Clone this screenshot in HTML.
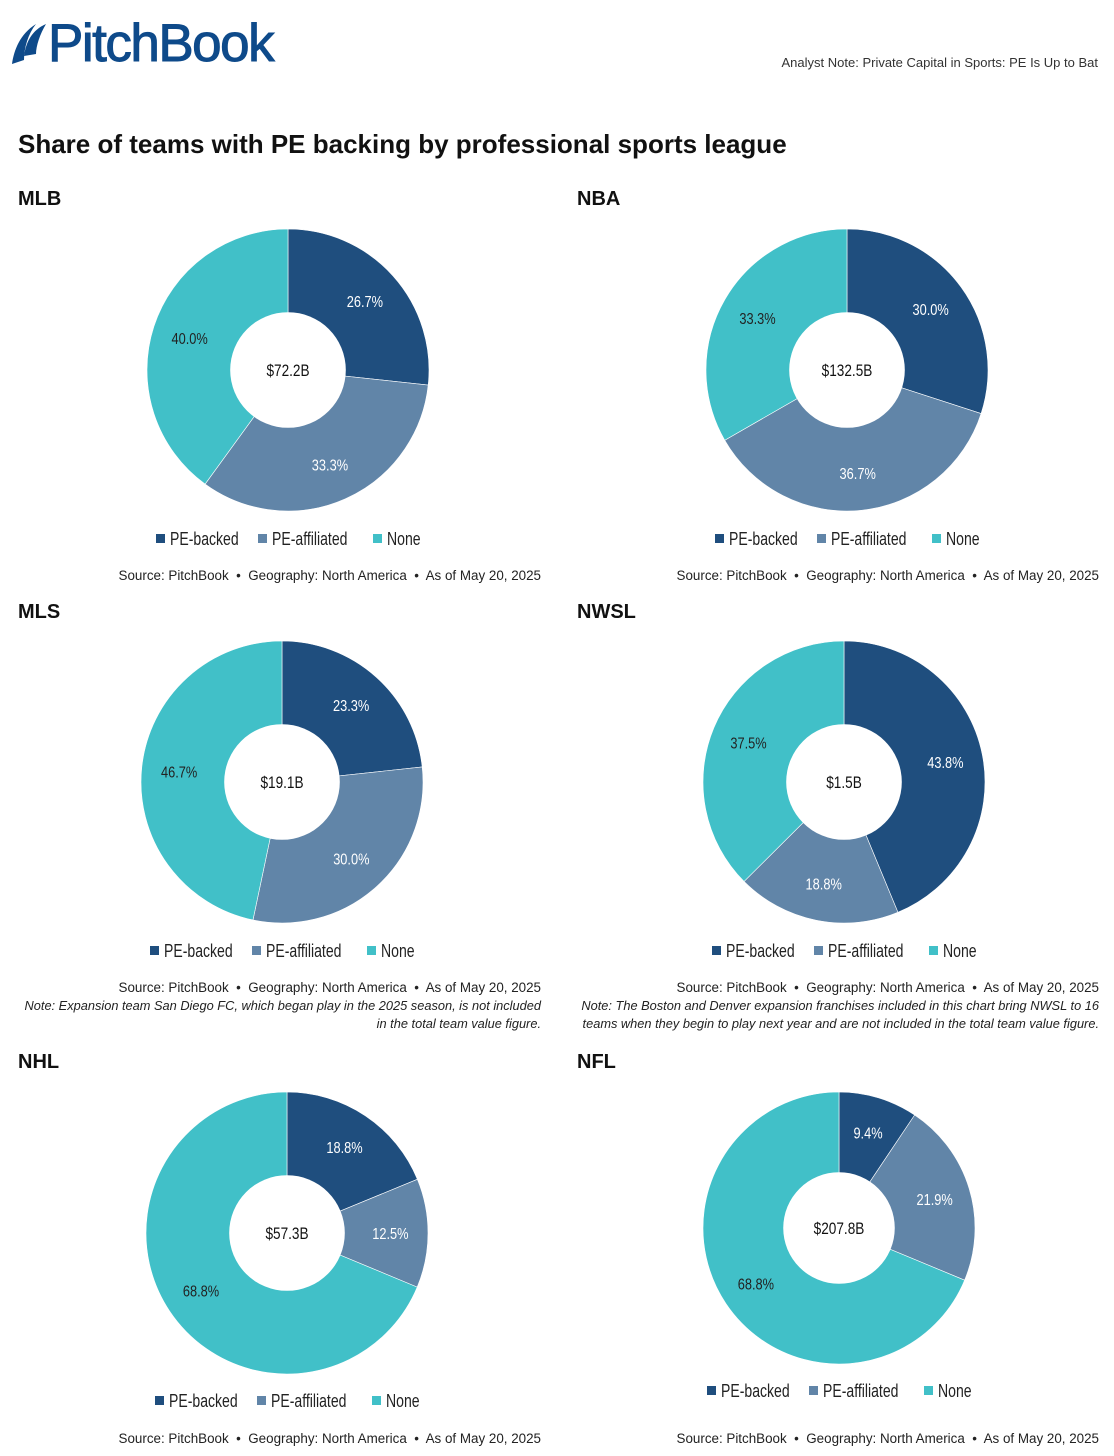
<!DOCTYPE html>
<html><head><meta charset="utf-8">
<style>
body{margin:0;background:#fff;width:1114px;height:1456px;position:relative;overflow:hidden;font-family:"Liberation Sans",sans-serif;color:#111}
.abs{position:absolute}
.h{font-weight:bold;font-size:20px}
.src{font-size:13.4px;color:#222;text-align:right;white-space:nowrap}
.note{font-size:12.8px;font-style:italic;color:#222;text-align:right;line-height:18px;white-space:nowrap}
svg{position:absolute;left:0;top:0}
</style></head><body>
<div class="abs" style="left:10px;top:16px;height:54px;display:flex;align-items:center">
<svg width="40" height="46" viewBox="0 0 40 46" style="position:relative"><path d="M2 44 C4 30 10 14 26 4 C18 14 14 28 14 40 Z" fill="#0e4a8a"/><path d="M14 36 C16 22 22 10 36 4 C30 14 26 26 26 34 Z" fill="#0e4a8a"/></svg>
<span style="font-size:53px;color:#0e4a8a;letter-spacing:-1.5px;margin-left:-2px;-webkit-text-stroke:1px #0e4a8a">PitchBook</span></div>
<div class="abs" style="right:16px;top:55px;font-size:13px;color:#333">Analyst Note: Private Capital in Sports: PE Is Up to Bat</div>
<div class="abs" style="left:18px;top:129px;font-size:26px;font-weight:bold">Share of teams with PE backing by professional sports league</div>

<div class="abs h" style="left:18px;top:188px">MLB</div>
<div class="abs h" style="left:577px;top:188px">NBA</div>
<div class="abs h" style="left:18px;top:601px">MLS</div>
<div class="abs h" style="left:577px;top:601px">NWSL</div>
<div class="abs h" style="left:18px;top:1051px">NHL</div>
<div class="abs h" style="left:577px;top:1051px">NFL</div>

<div class="abs src" style="right:573px;top:568px">Source: PitchBook &nbsp;•&nbsp; Geography: North America &nbsp;•&nbsp; As of May 20, 2025</div>
<div class="abs src" style="right:15px;top:568px">Source: PitchBook &nbsp;•&nbsp; Geography: North America &nbsp;•&nbsp; As of May 20, 2025</div>
<div class="abs src" style="right:573px;top:980px">Source: PitchBook &nbsp;•&nbsp; Geography: North America &nbsp;•&nbsp; As of May 20, 2025</div>
<div class="abs src" style="right:15px;top:980px">Source: PitchBook &nbsp;•&nbsp; Geography: North America &nbsp;•&nbsp; As of May 20, 2025</div>
<div class="abs src" style="right:573px;top:1431px">Source: PitchBook &nbsp;•&nbsp; Geography: North America &nbsp;•&nbsp; As of May 20, 2025</div>
<div class="abs src" style="right:15px;top:1431px">Source: PitchBook &nbsp;•&nbsp; Geography: North America &nbsp;•&nbsp; As of May 20, 2025</div>
<div class="abs note" style="right:573px;top:997px">Note: Expansion team San Diego FC, which began play in the 2025 season, is not included<br>in the total team value figure.</div>
<div class="abs note" style="right:15px;top:997px">Note: The Boston and Denver expansion franchises included in this chart bring NWSL to 16<br>teams when they begin to play next year and are not included in the total team value figure.</div>

<svg id="chart" width="1114" height="1456"></svg>
<script>
const leagues = ["mlb","nba","mls","nwsl","nhl","nfl"];
const totals = ["$72.2B","$132.5B","$19.1B","$1.5B","$57.3B","$207.8B"];
const peBacked = [26.7,30.0,23.3,43.8,18.8,9.4];
const peAffiliated = [33.3,36.7,30.0,18.8,12.5,21.9];
const noneShare = [40.0,33.3,46.7,37.5,68.8,68.8];
const categories = ["PE-backed","PE-affiliated","None"];
const colors = ["#1f4e7e","#6185a8","#41c0c8"];
const textColors = ["#fff","#fff","#222"];
const layout = [[288,370,141,539],[847,370,141,539],[282,782,141,951],[844,782,141,951],[287,1233,141,1401],[839,1228,136,1391]];
const NS="http://www.w3.org/2000/svg";
const svg=document.getElementById('chart');
function mk(t,a){const e=document.createElementNS(NS,t);for(const k in a)e.setAttribute(k,a[k]);return e;}
function pt(cx,cy,r,frac){const a=frac*2*Math.PI;return [cx+r*Math.sin(a),cy-r*Math.cos(a)];}
function condense(t,f){const w=t.getComputedTextLength();t.setAttribute('textLength',w*f);t.setAttribute('lengthAdjust','spacingAndGlyphs');}
leagues.forEach((lg,i)=>{
  const [cx,cy,R,ly]=layout[i];
  const r0=R*0.41;
  const vals=[peBacked[i],peAffiliated[i],noneShare[i]];
  const sum=vals.reduce((a,b)=>a+b,0);
  let acc=0;
  vals.forEach((v,j)=>{
    const s=acc/sum, e=(acc+v)/sum; acc+=v;
    const [x1,y1]=pt(cx,cy,R,s),[x2,y2]=pt(cx,cy,R,e);
    const large=(e-s)>0.5?1:0;
    const p=mk('path',{d:`M${cx},${cy} L${x1},${y1} A${R},${R} 0 ${large} 1 ${x2},${y2} Z`,fill:colors[j],stroke:'#fff','stroke-width':0.6});
    
    
    svg.appendChild(p);
    const [lx,ly2]=pt(cx,cy,(R+r0)/2+4,(s+e)/2);
    const t=mk('text',{x:lx,y:ly2+6,'text-anchor':'middle','font-size':16,fill:textColors[j]});
    t.textContent=v.toFixed(1)+'%';
    
    
    svg.appendChild(t);
    condense(t,0.8);
  });
  const c=mk('circle',{cx:cx,cy:cy,r:r0,fill:'#fff'});
  
  
  svg.appendChild(c);
  const tt=mk('text',{x:cx,y:cy+6,'text-anchor':'middle','font-size':17,fill:'#111'});
  tt.textContent=totals[i];
  
  
  svg.appendChild(tt);
  condense(tt,0.8);
  const offs=[0,102,217]; const lx0=cx-132;
  categories.forEach((cat,j)=>{
    const sq=mk('rect',{x:lx0+offs[j],y:ly-5,width:9,height:9,fill:colors[j]});
    
    
    svg.appendChild(sq);
    const lt=mk('text',{x:lx0+offs[j]+14,y:ly+6,'font-size':18,fill:'#222'});
    lt.textContent=cat;
    
    
    svg.appendChild(lt);
    condense(lt,0.78);
  });
});
</script>
</body></html>
